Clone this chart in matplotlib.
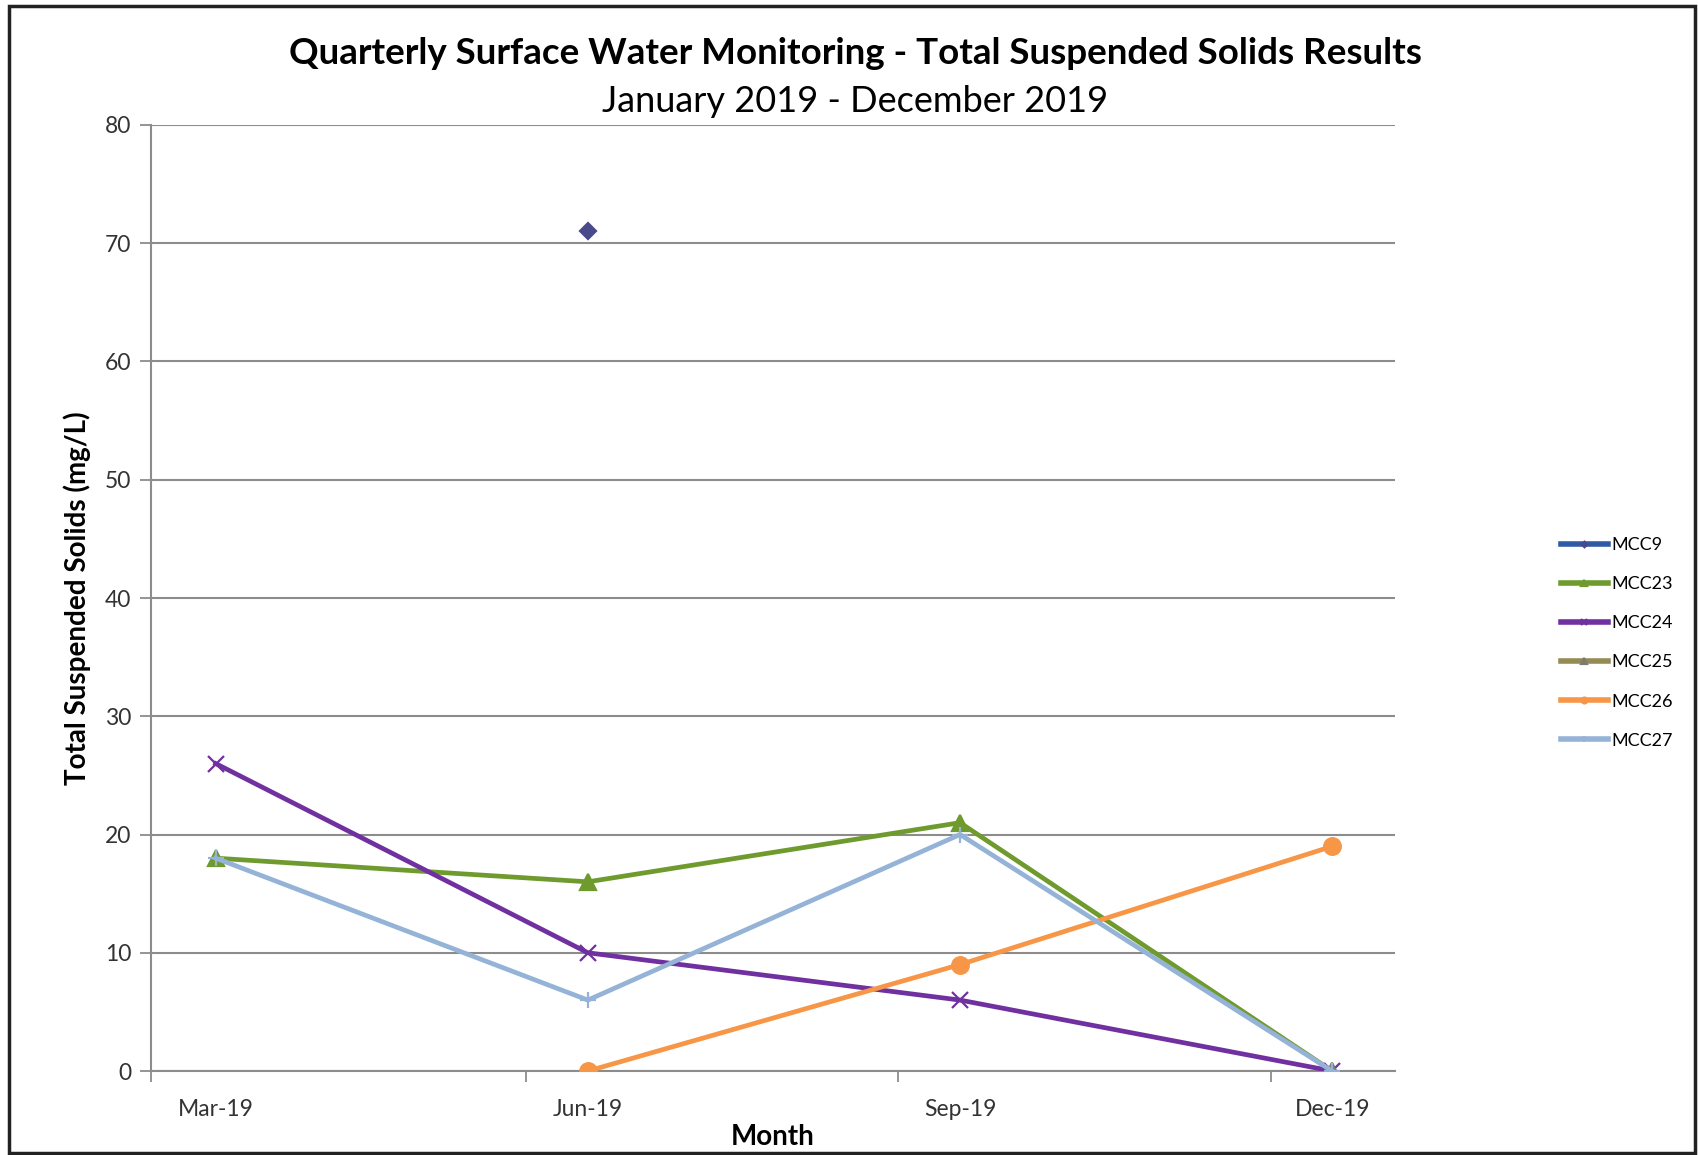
import numpy as np
import matplotlib
matplotlib.use('Agg')
import matplotlib.pyplot as plt
from matplotlib.patches import Rectangle

plt.rcParams['font.family'] = ['Lato', 'DejaVu Sans']

# data
months = ['Mar-19', 'Jun-19', 'Sep-19', 'Dec-19']
nan = np.nan
mcc9 = [nan, 71, nan, nan]
mcc23 = [18, 16, 21, 0]
mcc24 = [26, 10, 6, 0]
mcc25 = [nan, nan, nan, 0]
mcc26 = [nan, 0, 9, 19]
mcc27 = [18, 6, 20, 0]

series = [
    ('MCC9', mcc9, '#2F5AA6', 'D', '#4A4A8A', 8),
    ('MCC23', mcc23, '#6F9A2E', '^', '#6F9A2E', 11),
    ('MCC24', mcc24, '#7030A0', 'x', '#7030A0', 11),
    ('MCC25', mcc25, '#948A54', '^', '#7C7C70', 11),
    ('MCC26', mcc26, '#F79646', 'o', '#F79646', 12),
    ('MCC27', mcc27, '#95B3D7', '+', '#95B3D7', 11),
]

fig = plt.figure(figsize=(16.98, 11.55), dpi=100)
ax = fig.add_axes([0.0889, 0.0727, 0.7327, 0.8191])

x = np.arange(len(months))
for name, vals, col, mk, mcol, ms in series:
    ax.plot(x, vals, color=col, lw=3.4, marker=mk, markersize=ms,
            markerfacecolor=mcol, markeredgecolor=mcol, markeredgewidth=1.6,
            label=name, zorder=3)

ax.set_ylim(0, 80)
ax.set_yticks(np.arange(0, 81, 10))
ax.set_xlim(-0.174, 3.169)
ax.set_xticks(x)
ax.set_xticklabels(months)
ax.set_xticks([-0.174, 0.834, 1.833, 2.835], minor=True)
ax.tick_params(axis='x', which='major', length=0, pad=20, labelsize=16.5)
ax.tick_params(axis='x', which='minor', length=8, width=1.3, color='#8C8C8C')
ax.tick_params(axis='y', length=8, width=1.3, color='#8C8C8C', labelsize=16.5, pad=6,
               labelcolor='#333333')
ax.tick_params(axis='x', labelcolor='#333333')

ax.grid(axis='y', color='#8C8C8C', lw=1.5, zorder=1)
for side in ['top', 'right']:
    ax.spines[side].set_visible(False)
ax.spines['left'].set_color('#8C8C8C')
ax.spines['left'].set_linewidth(1.5)
ax.spines['bottom'].set_color('#8C8C8C')
ax.spines['bottom'].set_linewidth(1.5)
ax.set_axisbelow(True)

ax.set_ylabel('Total Suspended Solids (mg/L)', fontsize=20, fontweight='bold', labelpad=10)
ax.set_xlabel('Month', fontsize=20, fontweight='bold', labelpad=3)

fig.text(0.5035, 0.954, 'Quarterly Surface Water Monitoring - Total Suspended Solids Results',
         ha='center', va='center', fontsize=26.5, fontweight='bold')
fig.text(0.5035, 0.912, 'January 2019 - December 2019', ha='center', va='center', fontsize=26)

leg = ax.legend(loc='center left', bbox_to_anchor=(1.12, 0.4525), frameon=False,
                fontsize=13, handlelength=2.6, handletextpad=0.2, labelspacing=1.28,
                markerscale=0.35)
for ln in leg.get_lines():
    ln.set_linewidth(4)

# outer chart border
fig.patches.append(Rectangle((9 / 1698, 2 / 1155), 1686 / 1698, 1147 / 1155,
                             transform=fig.transFigure, fill=False,
                             edgecolor='#222222', lw=2.5))

fig.savefig('out.png', dpi=100)
